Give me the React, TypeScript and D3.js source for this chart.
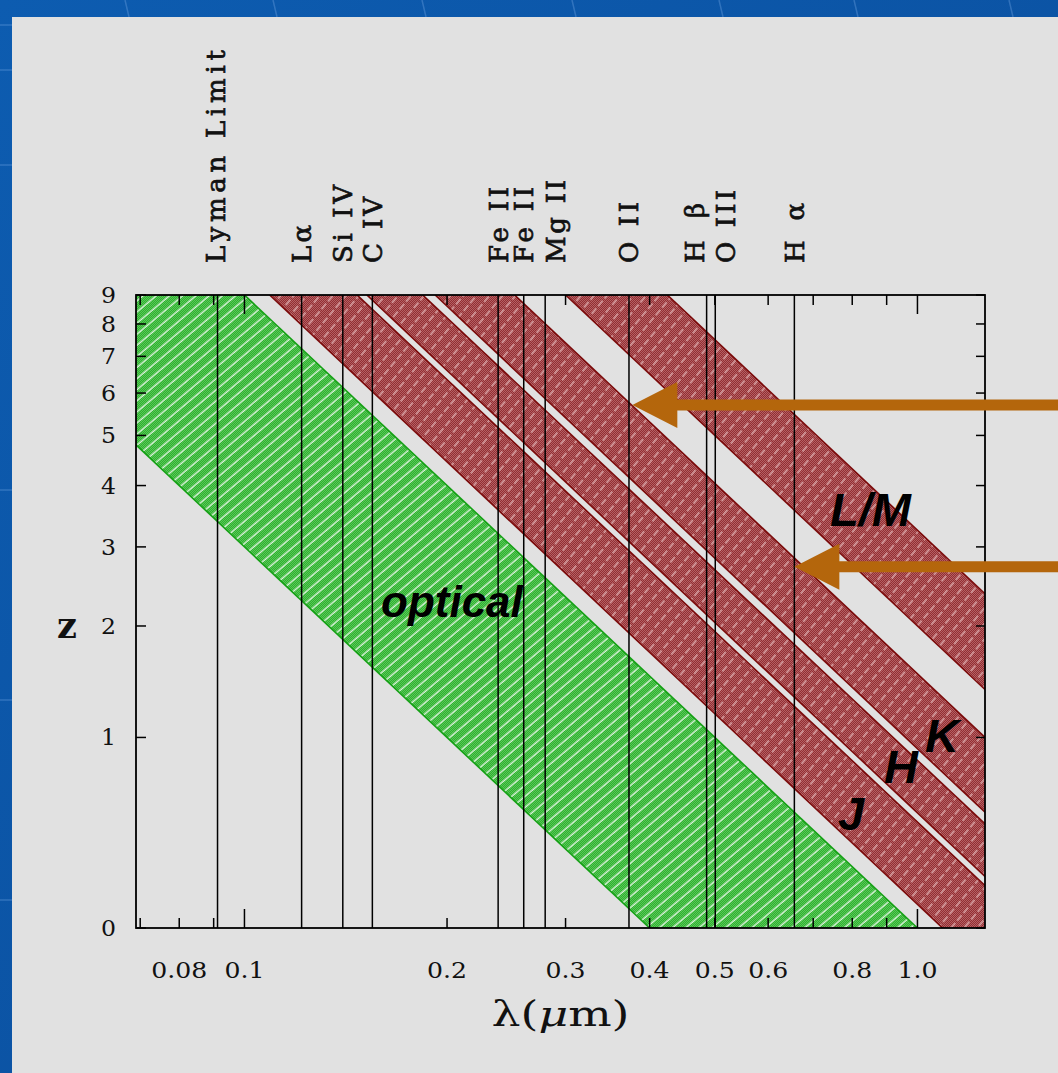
import React from "react";
import * as d3 from "d3";

const W = 1058;
const H = 1073;

// ---- data ----
const bandNames = ["optical", "J", "H", "K", "L/M"];
const bandMinObs = [0.4, 1.09, 1.52, 1.92, 3.0];
const bandMaxObs = [1.0, 1.47, 1.84, 2.52, 4.25];
const bandKinds = ["optical", "ir", "ir", "ir", "ir"];

const lineLabels = ["Lyman Limit", "L\u03b1", "Si IV", "C IV", "Fe II", "Fe II", "Mg II", "O II", "H \u03b2", "O III", "H \u03b1"];
const lineWavelengths = [0.0912, 0.1216, 0.14, 0.1549, 0.2382, 0.26, 0.2798, 0.3727, 0.4861, 0.5007, 0.6563];
// layout tweaks for labels (pixels): horizontal nudge and drawn length
const lineLabelNudge = [-2, 0, 0, 0, 0, 0, 10, 0, -12, 10, 0];
const lineLabelLength = [213, 38, 78, 66, 76, 76, 83, 61, 60, 73, 60];

const zTicks = [0, 1, 2, 3, 4, 5, 6, 7, 8, 9];
const lambdaTicks = [0.07, 0.08, 0.09, 0.1, 0.2, 0.3, 0.4, 0.5, 0.6, 0.7, 0.8, 0.9, 1.0];
const lambdaTickLabels = ["", "0.08", "", "0.1", "0.2", "0.3", "0.4", "0.5", "0.6", "", "0.8", "", "1.0"];
const majorLambdaTicks = [0.1, 1.0];

const arrowLambda = [0.377, 0.6563];
const arrowZ = [5.7, 2.72];

// ---- layout ----
const PLOT = { left: 136, right: 985, top: 295, bottom: 928 };

export default function App() {
  const x = d3.scaleLog().domain([0.069, 1.26]).range([PLOT.left, PLOT.right]);
  const y = d3.scaleLog().domain([1, 10]).range([PLOT.bottom, PLOT.top]);
  const yz = (z: number) => y(1 + z);
  const zRange = [0, 9];
  const line = d3.line<[number, number]>();

  const bandPoly = (a: number, b: number) => {
    const pts: [number, number][] = [
      ...zRange.map((z) => [x(a / (1 + z)), yz(z)] as [number, number]),
      ...zRange.slice().reverse().map((z) => [x(b / (1 + z)), yz(z)] as [number, number]),
    ];
    return line(pts) + "Z";
  };
  const edge = (a: number) =>
    line(zRange.map((z) => [x(a / (1 + z)), yz(z)] as [number, number]));

  const serif = "'DejaVu Serif', 'Liberation Serif', serif";
  const sans = "'Liberation Sans', Arial, sans-serif";
  const arrowColor = "#b4660c";

  const bandLabelPos: Record<string, { x: number; y: number }> = {
    optical: { x: 381, y: 617 },
    J: { x: 838, y: 830 },
    H: { x: 884, y: 783 },
    K: { x: 925, y: 752 },
    "L/M": { x: 830, y: 526 },
  };

  return (
    <svg width={W} height={H} style={{ display: "block", position: "absolute", left: 0, top: 0 }}>
      <defs>
        <linearGradient id="bg" x1="0" y1="0" x2="1" y2="1">
          <stop offset="0" stopColor="#0d5cb0" />
          <stop offset="1" stopColor="#0a4c9a" />
        </linearGradient>
        <pattern id="ditherG" patternUnits="userSpaceOnUse" width="2" height="2">
          <rect width="2" height="2" fill="#30b030" />
          <rect width="1" height="1" fill="#58c858" />
          <rect x="1" y="1" width="1" height="1" fill="#58c858" />
        </pattern>
        <pattern id="ditherR" patternUnits="userSpaceOnUse" width="2" height="2">
          <rect width="2" height="2" fill="#932e32" />
          <rect width="1" height="1" fill="#b46064" />
          <rect x="1" y="1" width="1" height="1" fill="#b46064" />
        </pattern>
        <pattern id="hatchG" patternUnits="userSpaceOnUse" width="8.5" height="8.5" patternTransform="rotate(-40)">
          <line x1="0" y1="4" x2="8.5" y2="4" stroke="rgba(255,255,255,0.8)" strokeWidth="1.4" />
        </pattern>
        <pattern id="hatchR" patternUnits="userSpaceOnUse" width="10" height="10" patternTransform="rotate(-50)">
          <line x1="0" y1="5" x2="7" y2="5" stroke="rgba(255,228,228,0.7)" strokeWidth="1.3" />
        </pattern>
        <clipPath id="plotClip">
          <rect x={PLOT.left} y={PLOT.top} width={PLOT.right - PLOT.left} height={PLOT.bottom - PLOT.top} />
        </clipPath>
      </defs>

      {/* slide background */}
      <rect x={0} y={0} width={W} height={H} fill="url(#bg)" />
      {[125, 273, 422, 572, 719, 854, 1009].map((gx) => (
        <line key={"gx" + gx} x1={gx} y1={0} x2={gx + 4} y2={17} stroke="rgba(120,170,230,0.35)" strokeWidth={1.5} />
      ))}
      {[25, 70, 165, 490, 700, 900].map((gy) => (
        <line key={"gy" + gy} x1={0} y1={gy} x2={12} y2={gy} stroke="rgba(120,170,230,0.35)" strokeWidth={1.5} />
      ))}
      <rect x={12} y={17} width={W - 12} height={H - 17} fill="#e1e1e1" />

      {/* bands */}
      <g clipPath="url(#plotClip)">
        {bandNames.map((name, i) => {
          const kind = bandKinds[i];
          const d = bandPoly(bandMinObs[i], bandMaxObs[i]);
          const edgeColor = kind === "optical" ? "#14a014" : "#7a0a0a";
          return (
            <g key={name}>
              <path d={d} fill={kind === "optical" ? "url(#ditherG)" : "url(#ditherR)"} />
              <path d={d} fill={kind === "optical" ? "url(#hatchG)" : "url(#hatchR)"} />
              <path d={edge(bandMinObs[i]) || ""} fill="none" stroke={edgeColor} strokeWidth={1.6} />
              <path d={edge(bandMaxObs[i]) || ""} fill="none" stroke={edgeColor} strokeWidth={1.6} />
            </g>
          );
        })}
      </g>

      {/* emission lines */}
      {lineWavelengths.map((w, i) => (
        <line key={"l" + i} x1={x(w)} x2={x(w)} y1={PLOT.top} y2={PLOT.bottom} stroke="#000" strokeWidth={1.5} />
      ))}

      {/* ticks */}
      {zTicks.map((z) => (
        <g key={"zt" + z}>
          <line x1={PLOT.left} x2={PLOT.left + 10} y1={yz(z)} y2={yz(z)} stroke="#000" strokeWidth={1.5} />
          <line x1={PLOT.right} x2={PLOT.right - 9} y1={yz(z)} y2={yz(z)} stroke="#000" strokeWidth={1.5} />
          <text
            x={116}
            y={yz(z) + 8}
            textAnchor="end"
            fontFamily={serif}
            fontSize={22}
            fill="#111"
            textLength={15}
            lengthAdjust="spacingAndGlyphs"
          >
            {z}
          </text>
        </g>
      ))}
      {lambdaTicks.map((t, i) => {
        const len = majorLambdaTicks.includes(t) ? 19 : 10;
        const lab = lambdaTickLabels[i];
        const tl = lab.replace(".", "").length * 16 + (lab.includes(".") ? 8 : 0);
        return (
          <g key={"xt" + t}>
            <line x1={x(t)} x2={x(t)} y1={PLOT.bottom} y2={PLOT.bottom - len} stroke="#000" strokeWidth={1.5} />
            <line x1={x(t)} x2={x(t)} y1={PLOT.top} y2={PLOT.top + len} stroke="#000" strokeWidth={1.5} />
            {lab && (
              <text
                x={x(t)}
                y={978}
                textAnchor="middle"
                fontFamily={serif}
                fontSize={22}
                fill="#111"
                textLength={tl}
                lengthAdjust="spacingAndGlyphs"
              >
                {lab}
              </text>
            )}
          </g>
        );
      })}

      {/* frame */}
      <rect
        x={PLOT.left}
        y={PLOT.top}
        width={PLOT.right - PLOT.left}
        height={PLOT.bottom - PLOT.top}
        fill="none"
        stroke="#000"
        strokeWidth={1.8}
      />

      {/* line labels */}
      {lineLabels.map((lab, i) => {
        const cx = x(lineWavelengths[i]) + lineLabelNudge[i];
        return (
          <text
            key={"ll" + i}
            transform={`translate(${cx + 9.5},263) rotate(-90)`}
            fontFamily={serif}
            fontSize={26}
            fill="#111"
            stroke="#111"
            strokeWidth={0.7}
            textLength={lineLabelLength[i]}
            lengthAdjust="spacing"
          >
            {lab}
          </text>
        );
      })}

      {/* axis titles */}
      <text x={67} y={638} textAnchor="middle" fontFamily={serif} fontWeight="bold" fontSize={35} fill="#111">
        z
      </text>
      <text
        x={(PLOT.left + PLOT.right) / 2}
        y={1026}
        textAnchor="middle"
        fontFamily={serif}
        fontSize={36}
        fill="#111"
        textLength={138}
        lengthAdjust="spacingAndGlyphs"
      >
        {"\u03bb("}
        <tspan fontStyle="italic">{"\u03bc"}</tspan>
        {"m)"}
      </text>

      {/* band labels */}
      {bandNames.map((name) => (
        <text
          key={"bl" + name}
          x={bandLabelPos[name].x}
          y={bandLabelPos[name].y}
          fontFamily={sans}
          fontWeight="bold"
          fontStyle="italic"
          fontSize={name === "optical" ? 44 : 47}
          fill="#000"
        >
          {name}
        </text>
      ))}

      {/* arrows */}
      {arrowLambda.map((w, i) => {
        const tx = x(w);
        const ty = yz(arrowZ[i]);
        const headLen = 45;
        const headHalf = 23;
        const shaft = 5.5;
        const pts: [number, number][] = [
          [tx, ty],
          [tx + headLen, ty - headHalf],
          [tx + headLen, ty - shaft],
          [W + 5, ty - shaft],
          [W + 5, ty + shaft],
          [tx + headLen, ty + shaft],
          [tx + headLen, ty + headHalf],
        ];
        return <path key={"ar" + i} d={line(pts) + "Z"} fill={arrowColor} />;
      })}
    </svg>
  );
}
